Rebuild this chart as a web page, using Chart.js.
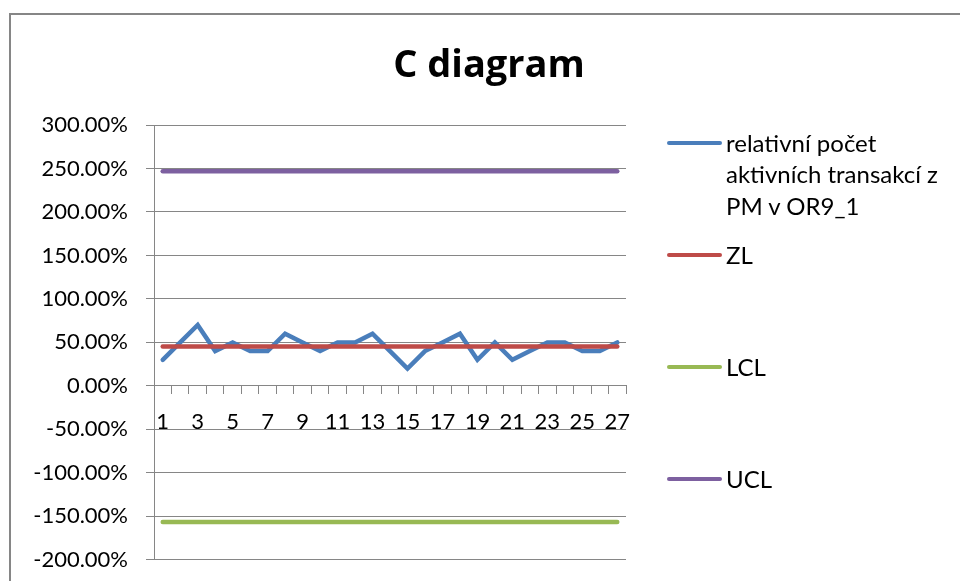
<!DOCTYPE html>
<html>
<head>
<meta charset="utf-8">
<script src="https://cdn.jsdelivr.net/npm/chart.js@4/dist/chart.umd.min.js"></script>
<style>
  body { margin: 0; background: #fff; overflow: hidden; }
  #wrap { position: relative; width: 960px; height: 581px; overflow: hidden; font-family: Lato, "Open Sans", sans-serif; }
  #frame { position: absolute; left: 9px; top: 13px; width: 1000px; height: 700px; border-left: 2px solid #868686; border-top: 2px solid #868686; }
  #title { position: absolute; left: 0; width: 978px; top: 36px; text-align: center; font-family: "Open Sans", Lato, sans-serif; font-weight: bold; font-size: 38px; color: #000; }
  #legend { position: absolute; left: 667px; top: 0; }
  .item { position: absolute; left: 0; width: 290px; font-size: 24px; line-height: 31.7px; color: #000; }
  .item .sample { position: absolute; left: 0; top: 14px; width: 55px; height: 4px; border-radius: 2px; }
  .item .text { margin-left: 59px; width: 226px; }
  canvas { position: absolute; left: 0; top: 0; }
</style>
</head>
<body>
<div id="wrap">
  <div id="frame"></div>
  <canvas id="c-chart" width="960" height="591"></canvas>
  <div id="title">C diagram</div>
  <div id="legend"></div>
</div>
<script>
// ---- data ----
const categories = ['1', '2', '3', '4', '5', '6', '7', '8', '9', '10', '11', '12', '13', '14',
  '15', '16', '17', '18', '19', '20', '21', '22', '23', '24', '25', '26', '27'];

const relativeCount = [30, 50, 70, 40, 50, 40, 40, 60, 50, 40, 50, 50, 60, 40,
  20, 40, 50, 60, 30, 50, 30, 40, 50, 50, 40, 40, 50];

const zlValues = [45.19, 45.19, 45.19, 45.19, 45.19, 45.19, 45.19, 45.19, 45.19, 45.19, 45.19, 45.19, 45.19, 45.19,
  45.19, 45.19, 45.19, 45.19, 45.19, 45.19, 45.19, 45.19, 45.19, 45.19, 45.19, 45.19, 45.19];

const lclValues = [-156.5, -156.5, -156.5, -156.5, -156.5, -156.5, -156.5, -156.5, -156.5, -156.5, -156.5, -156.5, -156.5, -156.5,
  -156.5, -156.5, -156.5, -156.5, -156.5, -156.5, -156.5, -156.5, -156.5, -156.5, -156.5, -156.5, -156.5];

const uclValues = [246.9, 246.9, 246.9, 246.9, 246.9, 246.9, 246.9, 246.9, 246.9, 246.9, 246.9, 246.9, 246.9, 246.9,
  246.9, 246.9, 246.9, 246.9, 246.9, 246.9, 246.9, 246.9, 246.9, 246.9, 246.9, 246.9, 246.9];

const seriesNames = ['relativní počet aktivních transakcí z PM v OR9_1', 'ZL', 'LCL', 'UCL'];

const yMin = -200;
const yMax = 300;
const yStep = 50;

// ---- chart ----
const gridColor = '#868686';
const tickFont = { family: 'Lato, "Open Sans", sans-serif', size: 22 };

function lineSet(label, data, color, order) {
  return {
    label: label,
    data: data,
    borderColor: color,
    backgroundColor: color,
    borderWidth: 4.5,
    borderCapStyle: 'round',
    borderJoinStyle: 'miter',
    pointRadius: 0,
    tension: 0,
    fill: false,
    order: order
  };
}

const chartData = {
  labels: categories,
  datasets: [
    lineSet(seriesNames[0], relativeCount, '#4A7EBB', 4),
    lineSet(seriesNames[1], zlValues, '#BE4B48', 3),
    lineSet(seriesNames[2], lclValues, '#98B954', 2),
    lineSet(seriesNames[3], uclValues, '#7D60A0', 1)
  ]
};

// the y tick padding also ends up as space under the plot, so the canvas
// is a bit taller than the page and the extra strip is clipped by #wrap
const chartOptions = {
  responsive: false,
  animation: false,
  layout: {
    padding: { left: 0, top: 125, right: 334, bottom: 0 }
  },
  plugins: {
    legend: { display: false },
    title: { display: false },
    tooltip: { enabled: false }
  },
  scales: {
    x: {
      type: 'category',
      position: { y: 0 },
      offset: true,
      grid: {
        drawOnChartArea: false,
        drawTicks: true,
        tickLength: 8,
        offset: true,
        color: gridColor,
        lineWidth: 1
      },
      border: { display: true, color: gridColor, width: 1 },
      ticks: {
        autoSkip: false,
        maxRotation: 0,
        padding: 15,
        color: '#000',
        font: tickFont,
        callback: (value, index) => index % 2 === 0 ? categories[index] : ''
      }
    },
    y: {
      min: yMin,
      max: yMax,
      grid: { color: gridColor, lineWidth: 1, tickLength: 8 },
      border: { display: true, color: gridColor, width: 1 },
      ticks: {
        stepSize: yStep,
        padding: 18,
        color: '#000',
        font: tickFont,
        callback: value => value.toFixed(2) + '%'
      },
      afterFit: scale => { scale.width = 154; }
    }
  }
};

const cChart = new Chart(document.getElementById('c-chart'), {
  type: 'line',
  data: chartData,
  options: chartOptions
});

// ---- legend (html, built from the datasets) ----
const legendBox = document.getElementById('legend');
chartData.datasets.forEach((ds, i) => {
  const item = document.createElement('div');
  item.className = 'item';
  item.style.top = (126.6 + i * 112) + 'px';
  item.innerHTML = '<div class="sample" style="background:' + ds.borderColor + '"></div>' +
    '<div class="text">' + ds.label + '</div>';
  legendBox.appendChild(item);
});
</script>
</body>
</html>
